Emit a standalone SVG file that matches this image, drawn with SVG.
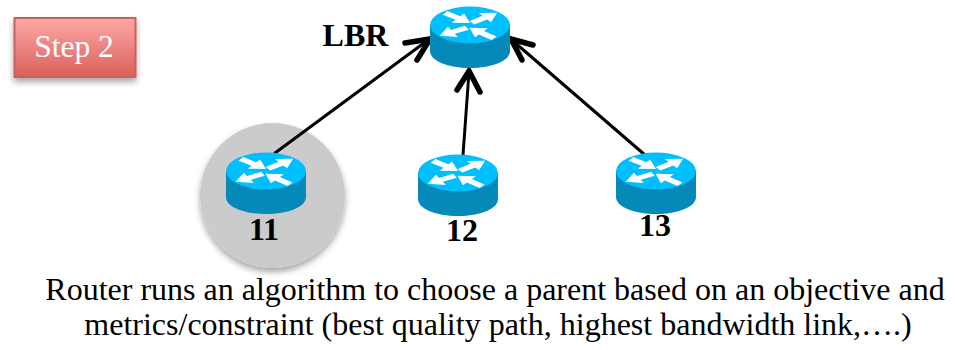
<svg xmlns="http://www.w3.org/2000/svg" width="955" height="350" viewBox="0 0 955 350">
<style>
.lbl{font-family:"Liberation Serif","Times New Roman",serif;font-weight:bold;font-size:32px;fill:#000;text-anchor:middle}
.cap{font-family:"Liberation Serif","Times New Roman",serif;font-size:32px;fill:#000;text-anchor:middle}
.step{font-family:"Liberation Serif","Times New Roman",serif;font-size:31.500px;fill:#fff;text-anchor:middle}
.wire{fill:none;stroke:#000;stroke-width:3;stroke-linecap:round}
.head{fill:none;stroke:#000;stroke-width:5.500;stroke-linecap:round;stroke-linejoin:miter}
</style>
<defs>
<linearGradient id="red" x1="0" y1="0" x2="0" y2="1"><stop offset="0" stop-color="#ffa8a6"/><stop offset="1" stop-color="#d9605a"/></linearGradient>
<filter id="sh" x="-20%" y="-20%" width="140%" height="150%"><feDropShadow dx="0" dy="4" stdDeviation="3" flood-color="#000" flood-opacity="0.35"/></filter>
<path id="arr" d="M0-4H16V-10.500L31 0 16 10.500V4H0Z" fill="#fff"/>
<g id="router">
<path d="M-40 0V26C-40 36-22 43 0 43S40 36 40 26V0Z" fill="#0589b8"/>
<ellipse cx="0" cy="0" rx="40" ry="18.500" fill="#00bfff"/>
<g transform="scale(1 .55)">
<use href="#arr" transform="translate(-25 -22) rotate(36)"/>
<use href="#arr" transform="translate(2 -4) rotate(-36)"/>
<use href="#arr" transform="translate(-3 5) rotate(152)"/>
<use href="#arr" transform="translate(24 24) rotate(218)"/>
</g>
</g>
</defs>
<g id="step2">
<rect x="14.500" y="18" width="121" height="59" fill="url(#red)" stroke="#c9605c" stroke-width="2" filter="url(#sh)"/>
<text class="step" x="74" y="57">Step 2</text>
</g>
<g id="halo"><circle cx="272.500" cy="195.500" r="72.500" fill="#cbcbcb" filter="url(#sh)"/></g>
<g id="connectors">
<path class="wire" d="M275 153L428 40"/>
<path class="head" d="M405 43L430 39L417 60"/>
<path class="wire" d="M463 155L469 72"/>
<path class="head" d="M457 90L469 71L480 92"/>
<path class="wire" d="M645 155L513 41"/>
<path class="head" d="M533 45L511 39L522 60"/>
</g>
<g id="lbr"><use href="#router" transform="translate(470 25)"/><text class="lbl" x="355.500" y="46">LBR</text></g>
<g id="r11"><use href="#router" transform="translate(266 171)"/><text class="lbl" x="264" y="240">11</text></g>
<g id="r12"><use href="#router" transform="translate(458 173)"/><text class="lbl" x="462" y="241">12</text></g>
<g id="r13"><use href="#router" transform="translate(656 171)"/><text class="lbl" x="655" y="236">13</text></g>
<g id="caption">
<text class="cap" x="495" y="300">Router runs an algorithm to choose a parent based on an objective and</text>
<text class="cap" x="498" y="335">metrics/constraint (best quality path, highest bandwidth link,….)</text>
</g>
</svg>
